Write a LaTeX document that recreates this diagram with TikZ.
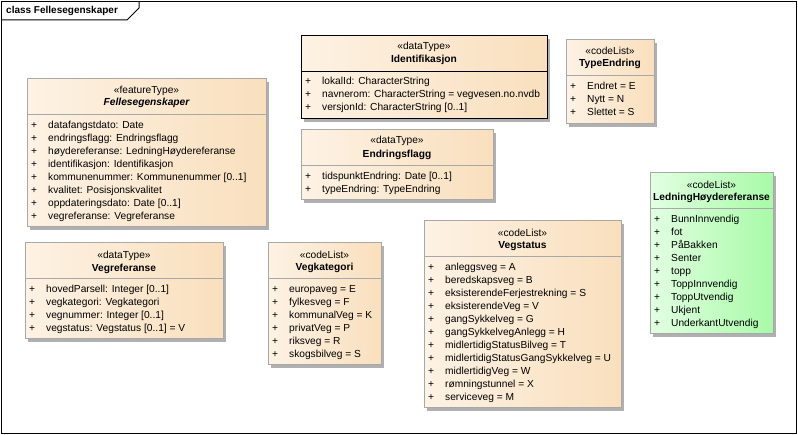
\documentclass[tikz,border=0pt]{standalone}
\usepackage{fontspec}
\setmainfont{Liberation Sans}
\usetikzlibrary{shadows}
\definecolor{classlight}{HTML}{FDF2E4}
\definecolor{classfill}{HTML}{F9DFBD}
\definecolor{codelight}{HTML}{E2FFE2}
\definecolor{codefill}{HTML}{A8FAA8}
\definecolor{boxline}{HTML}{A8A8A8}
\definecolor{boxshadow}{HTML}{B0B0B0}
\newcommand{\pl}{\makebox[17pt][l]{+}}

\begin{document}
\begin{tikzpicture}[x=1pt,y=-1pt,font=\fontsize{10.2}{12}\selectfont,
  umlbox/.style={draw=boxline,line width=1pt,anchor=north west,inner sep=0pt,outer sep=0pt,
    left color=classlight,right color=classfill,
    general shadow={fill=boxshadow,shadow xshift=3pt,shadow yshift=-3pt}},
  codebox/.style={umlbox,left color=codelight,right color=codefill},
  divider/.style={draw=boxline,line width=1pt},
  txt/.style={inner sep=0pt,text height=7.5pt,text depth=2pt},
  attr/.style={txt,anchor=west},
  cname/.style={txt,font=\fontsize{10.2}{12}\selectfont\bfseries}]
\useasboundingbox (0,0) rectangle (798,435);
% frame
\draw[line width=1pt] (1.5,1.5) rectangle (796.5,433.5);
\draw[line width=1pt] (1.5,20) -- (127,20) -- (139,8) -- (139,1.5);
\node[txt,anchor=west,font=\fontsize{10}{12}\selectfont\bfseries] (title) at (6,11) {class Fellesegenskaper};
% boxes
\node[umlbox,minimum width=239,minimum height=148] (felles) at (27,79) {};
\node[umlbox,draw=black,minimum width=246,minimum height=83] (ident) at (301,36) {};
\node[umlbox,minimum width=88,minimum height=84] (typeendr) at (566,40) {};
\node[umlbox,minimum width=192,minimum height=70] (endr) at (301,130) {};
\node[codebox,minimum width=123,minimum height=161] (ledning) at (650,173) {};
\node[umlbox,minimum width=198,minimum height=96] (vegref) at (25,243) {};
\node[umlbox,minimum width=113,minimum height=122] (vegkat) at (268,243) {};
\node[umlbox,minimum width=197,minimum height=187] (vegstat) at (424,221) {};
% headers
\node[txt] (felles-st) at ([yshift=-12pt]felles.north) {«featureType»};
\node[cname] (felles-n) at ([yshift=-24pt]felles.north) {\itshape Fellesegenskaper};
\draw[divider] ([yshift=-36pt]felles.north west) -- ([yshift=-36pt]felles.north east);
\node[txt] (ident-st) at ([yshift=-11pt]ident.north) {«dataType»};
\node[cname] (ident-n) at ([yshift=-24pt]ident.north) {Identifikasjon};
\draw[black,line width=1pt] ([yshift=-36pt]ident.north west) -- ([yshift=-36pt]ident.north east);
\node[txt] (typeendr-st) at ([yshift=-12pt]typeendr.north) {«codeList»};
\node[cname] (typeendr-n) at ([yshift=-24pt]typeendr.north) {TypeEndring};
\draw[divider] ([yshift=-36pt]typeendr.north west) -- ([yshift=-36pt]typeendr.north east);
\node[txt] (endr-st) at ([yshift=-11pt]endr.north) {«dataType»};
\node[cname] (endr-n) at ([yshift=-25pt]endr.north) {Endringsflagg};
\draw[divider] ([yshift=-36pt]endr.north west) -- ([yshift=-36pt]endr.north east);
\node[txt] (ledning-st) at ([yshift=-13pt]ledning.north) {«codeList»};
\node[cname] (ledning-n) at ([yshift=-25pt]ledning.north) {LedningHøydereferanse};
\draw[divider] ([yshift=-36pt]ledning.north west) -- ([yshift=-36pt]ledning.north east);
\node[txt] (vegref-st) at ([yshift=-13pt]vegref.north) {«dataType»};
\node[cname] (vegref-n) at ([yshift=-26pt]vegref.north) {Vegreferanse};
\draw[divider] ([yshift=-36pt]vegref.north west) -- ([yshift=-36pt]vegref.north east);
\node[txt] (vegkat-st) at ([yshift=-13pt]vegkat.north) {«codeList»};
\node[cname] (vegkat-n) at ([yshift=-25pt]vegkat.north) {Vegkategori};
\draw[divider] ([yshift=-36pt]vegkat.north west) -- ([yshift=-36pt]vegkat.north east);
\node[txt] (vegstat-st) at ([yshift=-13pt]vegstat.north) {«codeList»};
\node[cname] (vegstat-n) at ([yshift=-25pt]vegstat.north) {Vegstatus};
\draw[divider] ([yshift=-36pt]vegstat.north west) -- ([yshift=-36pt]vegstat.north east);
% Fellesegenskaper
\node[attr] (felles1) at (31,126) {\pl datafangstdato: Date};
\node[attr] (felles2) at (31,139) {\pl endringsflagg: Endringsflagg};
\node[attr] (felles3) at (31,152) {\pl høydereferanse: LedningHøydereferanse};
\node[attr] (felles4) at (31,165) {\pl identifikasjon: Identifikasjon};
\node[attr] (felles5) at (31,178) {\pl kommunenummer: Kommunenummer [0..1]};
\node[attr] (felles6) at (31,191) {\pl kvalitet: Posisjonskvalitet};
\node[attr] (felles7) at (31,204) {\pl oppdateringsdato: Date [0..1]};
\node[attr] (felles8) at (31,217) {\pl vegreferanse: Vegreferanse};
% Identifikasjon
\node[attr] (ident1) at (305,82) {\pl lokalId: CharacterString};
\node[attr] (ident2) at (305,95) {\pl navnerom: CharacterString = vegvesen.no.nvdb};
\node[attr] (ident3) at (305,108) {\pl versjonId: CharacterString [0..1]};
% TypeEndring
\node[attr] (typeendr1) at (570,87) {\pl Endret = E};
\node[attr] (typeendr2) at (570,100) {\pl Nytt = N};
\node[attr] (typeendr3) at (570,113) {\pl Slettet = S};
% Endringsflagg
\node[attr] (endr1) at (305,177) {\pl tidspunktEndring: Date [0..1]};
\node[attr] (endr2) at (305,190) {\pl typeEndring: TypeEndring};
% LedningHoydereferanse
\node[attr] (ledning1) at (654,220) {\pl BunnInnvendig};
\node[attr] (ledning2) at (654,233) {\pl fot};
\node[attr] (ledning3) at (654,246) {\pl PåBakken};
\node[attr] (ledning4) at (654,259) {\pl Senter};
\node[attr] (ledning5) at (654,272) {\pl topp};
\node[attr] (ledning6) at (654,285) {\pl ToppInnvendig};
\node[attr] (ledning7) at (654,298) {\pl ToppUtvendig};
\node[attr] (ledning8) at (654,311) {\pl Ukjent};
\node[attr] (ledning9) at (654,324) {\pl UnderkantUtvendig};
% Vegreferanse
\node[attr] (vegref1) at (29,290) {\pl hovedParsell: Integer [0..1]};
\node[attr] (vegref2) at (29,303) {\pl vegkategori: Vegkategori};
\node[attr] (vegref3) at (29,316) {\pl vegnummer: Integer [0..1]};
\node[attr] (vegref4) at (29,329) {\pl vegstatus: Vegstatus [0..1] = V};
% Vegkategori
\node[attr] (vegkat1) at (272,290) {\pl europaveg = E};
\node[attr] (vegkat2) at (272,303) {\pl fylkesveg = F};
\node[attr] (vegkat3) at (272,316) {\pl kommunalVeg = K};
\node[attr] (vegkat4) at (272,329) {\pl privatVeg = P};
\node[attr] (vegkat5) at (272,342) {\pl riksveg = R};
\node[attr] (vegkat6) at (272,355) {\pl skogsbilveg = S};
% Vegstatus
\node[attr] (vegstat1) at (428,268) {\pl anleggsveg = A};
\node[attr] (vegstat2) at (428,281) {\pl beredskapsveg = B};
\node[attr] (vegstat3) at (428,294) {\pl eksisterendeFerjestrekning = S};
\node[attr] (vegstat4) at (428,307) {\pl eksisterendeVeg = V};
\node[attr] (vegstat5) at (428,320) {\pl gangSykkelveg = G};
\node[attr] (vegstat6) at (428,333) {\pl gangSykkelvegAnlegg = H};
\node[attr] (vegstat7) at (428,346) {\pl midlertidigStatusBilveg = T};
\node[attr] (vegstat8) at (428,359) {\pl midlertidigStatusGangSykkelveg = U};
\node[attr] (vegstat9) at (428,372) {\pl midlertidigVeg = W};
\node[attr] (vegstat10) at (428,385) {\pl rømningstunnel = X};
\node[attr] (vegstat11) at (428,398) {\pl serviceveg = M};
\end{tikzpicture}
\end{document}
